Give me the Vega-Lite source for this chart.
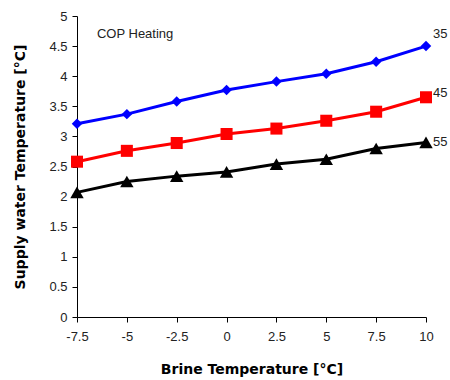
{
  "$schema": "https://vega.github.io/schema/vega-lite/v6.json",
  "width": 349,
  "height": 301,
  "autosize": {"type": "none"},
  "padding": {"left": 77, "top": 16, "right": 24, "bottom": 63},
  "background": "white",
  "config": {
    "font": "Liberation Sans",
    "view": {"stroke": null},
    "axis": {
      "grid": false,
      "domainColor": "#000",
      "tickColor": "#000",
      "labelColor": "#222",
      "labelFontSize": 13,
      "titleFontSize": 14,
      "titleFont": "DejaVu Sans",
      "titleFontWeight": "bold",
      "titleColor": "#000",
      "tickSize": 5,
      "labelExpr": "datum.value + ''"
    }
  },
  "data": {
    "values": [
      {"brine": -7.5, "cop": 3.21, "series": "35"},
      {"brine": -5, "cop": 3.37, "series": "35"},
      {"brine": -2.5, "cop": 3.58, "series": "35"},
      {"brine": 0, "cop": 3.77, "series": "35"},
      {"brine": 2.5, "cop": 3.91, "series": "35"},
      {"brine": 5, "cop": 4.04, "series": "35"},
      {"brine": 7.5, "cop": 4.24, "series": "35"},
      {"brine": 10, "cop": 4.5, "series": "35"},
      {"brine": -7.5, "cop": 2.58, "series": "45"},
      {"brine": -5, "cop": 2.76, "series": "45"},
      {"brine": -2.5, "cop": 2.89, "series": "45"},
      {"brine": 0, "cop": 3.04, "series": "45"},
      {"brine": 2.5, "cop": 3.13, "series": "45"},
      {"brine": 5, "cop": 3.26, "series": "45"},
      {"brine": 7.5, "cop": 3.41, "series": "45"},
      {"brine": 10, "cop": 3.65, "series": "45"},
      {"brine": -7.5, "cop": 2.07, "series": "55"},
      {"brine": -5, "cop": 2.25, "series": "55"},
      {"brine": -2.5, "cop": 2.34, "series": "55"},
      {"brine": 0, "cop": 2.41, "series": "55"},
      {"brine": 2.5, "cop": 2.54, "series": "55"},
      {"brine": 5, "cop": 2.62, "series": "55"},
      {"brine": 7.5, "cop": 2.8, "series": "55"},
      {"brine": 10, "cop": 2.9, "series": "55"}
    ]
  },
  "encoding": {
    "x": {
      "field": "brine", "type": "quantitative",
      "scale": {"domain": [-7.5, 10], "nice": false, "zero": false},
      "axis": {"values": [-7.5, -5, -2.5, 0, 2.5, 5, 7.5, 10], "title": "Brine Temperature [°C]", "labelPadding": 8, "titlePadding": 19, "labelFlush": false}
    },
    "y": {
      "field": "cop", "type": "quantitative",
      "scale": {"domain": [0, 5], "nice": false},
      "axis": {"values": [0, 0.5, 1, 1.5, 2, 2.5, 3, 3.5, 4, 4.5, 5], "title": "Supply water Temperature [°C]", "labelPadding": 5, "titlePadding": 21, "labelFlush": false}
    },
    "color": {
      "field": "series", "type": "nominal",
      "scale": {"domain": ["35", "45", "55"], "range": ["#0000FF", "#FF0000", "#000000"]},
      "legend": null
    }
  },
  "layer": [
    {"mark": {"type": "line", "strokeWidth": 3}},
    {
      "mark": {"type": "point", "filled": true, "opacity": 1},
      "encoding": {
        "shape": {"field": "series", "type": "nominal", "scale": {"domain": ["35", "45", "55"], "range": ["diamond", "square", "triangle-up"]}, "legend": null},
        "size": {"field": "series", "type": "nominal", "scale": {"domain": ["35", "45", "55"], "range": [110, 180, 100]}, "legend": null}
      }
    },
    {
      "transform": [{"filter": "datum.brine == 10 && datum.series == '35'"}],
      "mark": {"type": "text", "align": "left", "dx": 7, "dy": -12, "fontSize": 13},
      "encoding": {"text": {"field": "series"}, "color": {"value": "#222"}}
    },
    {
      "transform": [{"filter": "datum.brine == 10 && datum.series == '45'"}],
      "mark": {"type": "text", "align": "left", "dx": 7, "dy": -4, "fontSize": 13},
      "encoding": {"text": {"field": "series"}, "color": {"value": "#222"}}
    },
    {
      "transform": [{"filter": "datum.brine == 10 && datum.series == '55'"}],
      "mark": {"type": "text", "align": "left", "dx": 7, "dy": 0, "fontSize": 13},
      "encoding": {"text": {"field": "series"}, "color": {"value": "#222"}}
    },
    {
      "data": {"values": [{"label": "COP Heating", "bx": -6.5, "by": 4.7}]},
      "mark": {"type": "text", "align": "left", "baseline": "middle", "fontSize": 13},
      "encoding": {
        "x": {"field": "bx", "type": "quantitative"},
        "y": {"field": "by", "type": "quantitative"},
        "text": {"field": "label"},
        "color": {"value": "#222"}
      }
    }
  ]
}
